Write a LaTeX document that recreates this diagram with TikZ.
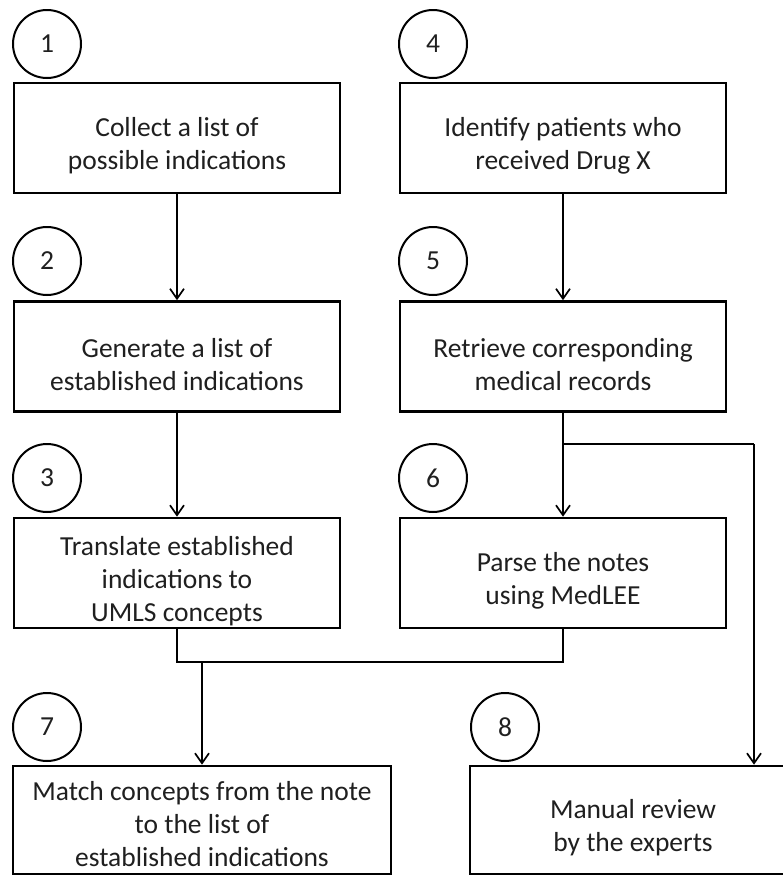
\documentclass[tikz,border=0pt]{standalone}
\usepackage{fontspec}
\setmainfont{Carlito}
\usetikzlibrary{arrows.meta}
% extra room above the first line, so the lines sit a little low in the box
\newcommand\toproom[1][35pt]{\rule{0pt}{#1}}
\begin{document}
\begin{tikzpicture}[x=1pt,y=-1pt,
  stepbox/.style={draw=black, line width=2.6pt, minimum width=326pt, minimum height=110pt,
    align=center, inner sep=0pt, font=\fontsize{27.5}{33}\selectfont, text=black!88},
  numcirc/.style={draw=black, line width=2pt, circle, minimum size=68pt, inner sep=0pt,
    font=\fontsize{27.5}{33}\selectfont, text=black!88},
  link/.style={line width=1.7pt, draw=black},
  arr/.style={link, -{Straight Barb[length=10pt, width=14pt, line width=1.7pt]}}]
\useasboundingbox (0,0) rectangle (783,876);
\clip (0,0) rectangle (783,876);

% step numbers
\node[numcirc] (c1) at (47,44)  {1};
\node[numcirc] (c4) at (433,44) {4};
\node[numcirc] (c2) at (47,261) {2};
\node[numcirc] (c5) at (433,261) {5};
\node[numcirc] (c3) at (47,478) {3};
\node[numcirc] (c6) at (433,478) {6};
\node[numcirc] (c7) at (47,727) {7};
\node[numcirc] (c8) at (505,727) {8};

% steps
\node[stepbox] (b1) at (177,138)   {\toproom Collect a list of\\possible indications};
\node[stepbox] (b4) at (563,138)   {\toproom Identify patients who\\received Drug X};
\node[stepbox] (b2) at (177,356.5) {\toproom Generate a list of\\established indications};
\node[stepbox] (b5) at (563,356.5) {\toproom Retrieve corresponding\\medical records};
\node[stepbox] (b3) at (177,573)   {\toproom Translate established\\indications to\\UMLS concepts};
\node[stepbox] (b6) at (563,573)   {\toproom Parse the notes\\using MedLEE};
\node[stepbox, minimum width=378pt, minimum height=108pt] (b7) at (202,820)
  {\toproom[27pt]Match concepts from the note\\to the list of\\established indications};
\node[stepbox, minimum height=108pt] (b8) at (633,820) {\toproom Manual review\\by the experts};

% junction points
\coordinate (split) at (563,444);
\coordinate (turn) at (754,444);
\coordinate (merge) at (202,662);

% connectors
\draw[arr] (b1) -- (b2);
\draw[arr] (b4) -- (b5);
\draw[arr] (b2) -- (b3);
\draw[arr] (b5) -- (b6);
\draw[link] (split) -- (turn);
\draw[arr] (turn) -- (turn |- b8.north);
\draw[link] (b3.south) |- (merge) -| (b6.south);
\draw[arr] (merge) -- (b7.north);
\end{tikzpicture}
\end{document}
